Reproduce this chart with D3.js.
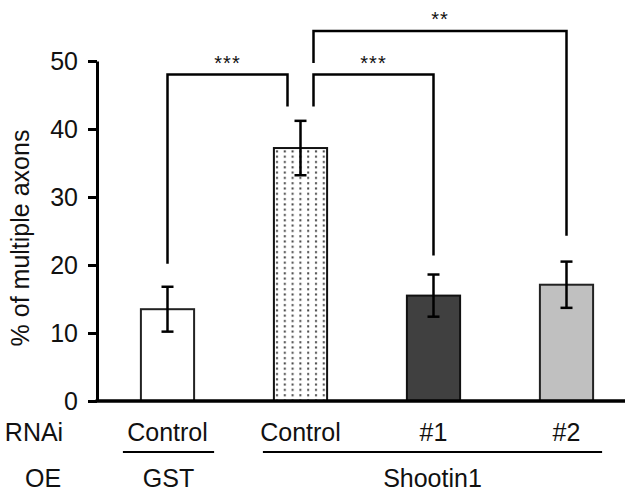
<!DOCTYPE html>
<html>
<head>
<meta charset="utf-8">
<script src="https://cdn.jsdelivr.net/npm/d3@7"></script>
<style>
  html, body { margin: 0; padding: 0; background: #fff; }
  svg { display: block; font-family: "Liberation Sans", Arial, sans-serif; }
</style>
</head>
<body>
<svg id="chart" width="627" height="493"></svg>
<script>
// ---- data ----
const categories = ["GST Control", "Shootin1 Control", "Shootin1 #1", "Shootin1 #2"];
const rnaiLabels = ["Control", "Control", "#1", "#2"];
const meanValues = [13.5, 37.2, 15.5, 17.1];
const errValues = [3.3, 4.0, 3.1, 3.4];
const yTicks = [0, 10, 20, 30, 40, 50];
const yLabel = "% of multiple axons";
const rowLabels = ["RNAi", "OE"];
const oeGroups = [
  { label: "GST", from: 0, to: 0 },
  { label: "Shootin1", from: 1, to: 3 }
];
// significance brackets: from/to category index, top level, leg bottoms (data units)
const sigBrackets = [
  { from: 0, to: 1, fromSide: 0, toSide: -1, top: 48.0, fromEnd: 20.2, toEnd: 43.3, text: "***" },
  { from: 1, to: 2, fromSide: 1, toSide: 0, top: 48.0, fromEnd: 43.3, toEnd: 21.4, text: "***" },
  { from: 1, to: 3, fromSide: 1, toSide: 0, top: 54.4, fromEnd: 49.7, toEnd: 24.3, text: "**" }
];

// ---- layout ----
const svg = d3.select("#chart");
const axisX = 97, axisY = 401, topY = 61;
const FS = 25;
const x = d3.scaleBand().domain(d3.range(categories.length))
  .range([101, 633]).paddingInner(0.6).paddingOuter(0.3);
const y = d3.scaleLinear().domain([0, 50]).range([axisY, topY]);
const cx = i => x(i) + x.bandwidth() / 2;

// pattern for dotted bar
const defs = svg.append("defs");
const pat = defs.append("pattern").attr("id", "dots").attr("patternUnits", "userSpaceOnUse")
  .attr("width", 7.8).attr("height", 5.3).attr("x", 0).attr("y", 0);
pat.append("rect").attr("width", 7.8).attr("height", 5.3).attr("fill", "#fff");
pat.append("rect").attr("x", 3).attr("y", 2).attr("width", 2).attr("height", 2).attr("fill", "#444");

const fills = ["#ffffff", "url(#dots)", "#404040", "#c0c0c0"];
const strokes = ["#222", "#111", "#111", "#222"];

// bars
svg.selectAll("rect.bar").data(meanValues).join("rect")
  .attr("class", "bar")
  .attr("x", (d, i) => x(i))
  .attr("y", d => y(d))
  .attr("width", x.bandwidth())
  .attr("height", d => y(0) - y(d))
  .attr("fill", (d, i) => fills[i])
  .attr("stroke", (d, i) => strokes[i])
  .attr("stroke-width", 2);

// error bars
const capW = 12;
const eb = svg.append("g").attr("stroke", "#000").attr("stroke-width", 2.5);
meanValues.forEach((m, i) => {
  const e = errValues[i];
  eb.append("line").attr("x1", cx(i)).attr("x2", cx(i)).attr("y1", y(m + e)).attr("y2", y(m - e));
  eb.append("line").attr("x1", cx(i) - capW / 2).attr("x2", cx(i) + capW / 2).attr("y1", y(m + e)).attr("y2", y(m + e));
  eb.append("line").attr("x1", cx(i) - capW / 2).attr("x2", cx(i) + capW / 2).attr("y1", y(m - e)).attr("y2", y(m - e));
});

// y axis
const yAxis = d3.axisLeft(y).tickValues(yTicks).tickSize(9).tickPadding(10).tickSizeOuter(0);
const gy = svg.append("g").attr("transform", `translate(${axisX},0)`).call(yAxis);
gy.select(".domain").attr("stroke", "#000").attr("stroke-width", 3);
gy.selectAll(".tick line").attr("stroke", "#000").attr("stroke-width", 3);
gy.selectAll(".tick text").attr("font-size", FS).attr("fill", "#111")
  .attr("font-family", "'Liberation Sans', Arial, sans-serif");

// x axis baseline
svg.append("line").attr("x1", axisX - 1.5).attr("x2", 625).attr("y1", axisY).attr("y2", axisY)
  .attr("stroke", "#000").attr("stroke-width", 3.5);

// y label
svg.append("text").attr("transform", `translate(29,${(topY + axisY) / 2 + 7}) rotate(-90)`)
  .attr("text-anchor", "middle").attr("font-size", FS).attr("fill", "#111").text(yLabel);

// category labels (RNAi row)
svg.selectAll("text.rnai").data(rnaiLabels).join("text")
  .attr("class", "rnai")
  .attr("x", (d, i) => cx(i)).attr("y", 441)
  .attr("text-anchor", "middle").attr("font-size", FS).attr("fill", "#111").text(d => d);

// row labels
svg.append("text").attr("x", 34).attr("y", 441).attr("text-anchor", "middle")
  .attr("font-size", FS).attr("fill", "#111").text(rowLabels[0]);
svg.append("text").attr("x", 43).attr("y", 487).attr("text-anchor", "middle")
  .attr("font-size", FS).attr("fill", "#111").text(rowLabels[1]);

// OE groups with underline
oeGroups.forEach(g => {
  const x0 = g.from === g.to ? x(g.from) - 18 : x(g.from) - 11;
  const x1 = g.from === g.to ? x(g.to) + x.bandwidth() + 20 : x(g.to) + x.bandwidth() + 9;
  svg.append("line").attr("x1", x0).attr("x2", x1).attr("y1", 452).attr("y2", 452)
    .attr("stroke", "#000").attr("stroke-width", 2);
  svg.append("text").attr("x", (x0 + x1) / 2).attr("y", 487).attr("text-anchor", "middle")
    .attr("font-size", FS).attr("fill", "#111").text(g.label);
});

// significance brackets
const legOff = 13;
const gb = svg.append("g");
sigBrackets.forEach(b => {
  const xa = cx(b.from) + b.fromSide * legOff;
  const xb = cx(b.to) + b.toSide * legOff;
  gb.append("path")
    .attr("d", `M${xa},${y(b.fromEnd)}V${y(b.top)}H${xb}V${y(b.toEnd)}`)
    .attr("fill", "none").attr("stroke", "#000").attr("stroke-width", 2.5);
  gb.append("text").attr("x", (xa + xb) / 2).attr("y", y(b.top) - 5)
    .attr("text-anchor", "middle").attr("font-size", 20).attr("fill", "#111")
    .attr("letter-spacing", 1).text(b.text);
});
</script>
</body>
</html>
